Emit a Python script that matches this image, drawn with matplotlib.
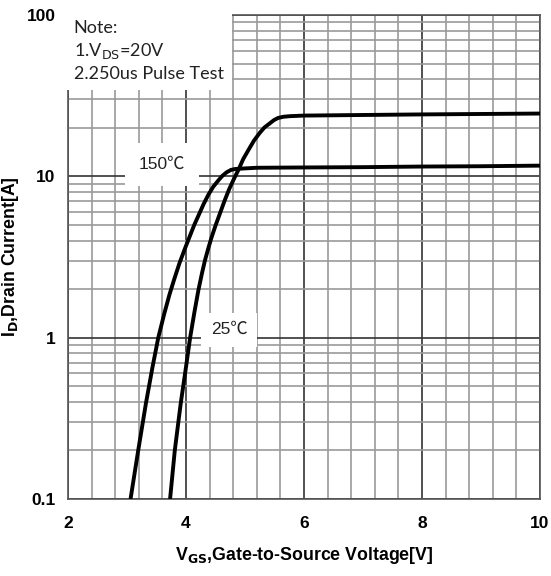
import matplotlib

matplotlib.use('Agg')

import numpy as np
import matplotlib.pyplot as plt
from matplotlib.ticker import FixedLocator, LogLocator, NullFormatter

# transfer characteristics
vgs_25 = [3.73, 3.81, 3.91, 3.99, 4.07, 4.14, 4.21, 4.27, 4.32, 4.38, 4.43, 4.50,
          4.58, 4.65, 4.73, 4.81, 4.89, 4.97, 5.06, 5.15, 5.25, 5.33, 5.42, 5.49,
          5.56, 5.65, 5.76, 6.00, 7.00, 8.00, 9.00, 10.0]
id_25 = [0.1, 0.2, 0.39, 0.62, 1.0, 1.42, 1.97, 2.5, 3.0, 3.6, 4.15, 4.95,
         5.95, 7.0, 8.3, 9.6, 11.0, 12.8, 14.6, 16.6, 18.6, 20.1, 21.3, 22.3,
         23.0, 23.4, 23.6, 23.8, 24.0, 24.2, 24.35, 24.5]

vgs_150 = [3.06, 3.19, 3.32, 3.43, 3.53, 3.63, 3.72, 3.80, 3.89, 3.98, 4.08, 4.14,
           4.21, 4.30, 4.38, 4.46, 4.55, 4.62, 4.69, 4.76, 4.83, 5.00, 5.20, 6.00,
           7.00, 8.00, 9.00, 10.0]
id_150 = [0.1, 0.2, 0.39, 0.65, 1.0, 1.40, 1.85, 2.3, 2.9, 3.55, 4.4, 5.0,
          5.7, 6.75, 7.7, 8.6, 9.45, 10.1, 10.6, 10.95, 11.1, 11.2, 11.3, 11.35,
          11.4, 11.5, 11.55, 11.65]

label_font = ['Liberation Sans', 'Noto Sans CJK SC']

fig = plt.figure(figsize=(5.51, 5.76), dpi=100)
ax = fig.add_axes([68 / 551, 77 / 576, 472 / 551, 484 / 576])

ax.set_xlim(2, 10)
ax.set_yscale('log')
ax.set_ylim(0.1, 100)

ax.xaxis.set_major_locator(FixedLocator([2, 4, 6, 8, 10]))
ax.xaxis.set_minor_locator(FixedLocator(np.arange(2, 10.01, 0.4)))
ax.yaxis.set_major_locator(FixedLocator([0.1, 1, 10, 100]))
ax.yaxis.set_minor_locator(LogLocator(base=10, subs=np.arange(2, 10)))
ax.yaxis.set_minor_formatter(NullFormatter())
ax.set_yticklabels(['0.1', '1', '10', '100'])

ax.grid(which='minor', color='#9a9a9a', linewidth=1.2)
ax.grid(which='major', color='#333333', linewidth=1.2)
ax.tick_params(which='both', length=0)
ax.tick_params(axis='y', labelsize=12.5, pad=9)
ax.tick_params(axis='x', labelsize=12.5, pad=12)
for lab in ax.get_xticklabels() + ax.get_yticklabels():
    lab.set_fontweight('bold')
    lab.set_family('Liberation Sans')
for s in ax.spines.values():
    s.set_color('#555555')
    s.set_linewidth(1.2)

ax.plot(vgs_25, id_25, color='black', linewidth=2.8, solid_capstyle='butt', zorder=5)
ax.plot(vgs_150, id_150, color='black', linewidth=2.8, solid_capstyle='butt', zorder=5)

ax.text(3.59, 11.8, '150\u2103', fontsize=12.5, family=label_font, color='#222222',
        ha='center', va='center', bbox=dict(facecolor='white', edgecolor='none', pad=10), zorder=4)
ax.text(4.73, 1.12, '25\u2103', fontsize=12.5, family=label_font, color='#222222',
        ha='center', va='center', bbox=dict(facecolor='white', edgecolor='none', pad=7), zorder=4)

ax.text(0.012, 0.99, 'Note:\n1.V$_{\\mathrm{DS}}$=20V\n2.250us Pulse Test',
        transform=ax.transAxes, fontsize=13, family='Lato', color='#222222',
        ha='left', va='top', linespacing=1.35,
        bbox=dict(facecolor='white', edgecolor='none', pad=6), zorder=4)

ax.set_xlabel('V$_{\\mathbf{GS}}$,Gate-to-Source Voltage[V]', fontsize=12.8,
              fontweight='bold', family='Liberation Sans', labelpad=10)
ax.set_ylabel('I$_{\\mathbf{D}}$,Drain Current[A]', fontsize=12.8,
              fontweight='bold', family='Liberation Sans')
ax.yaxis.set_label_coords(-0.1, 0.5)

fig.savefig('out.png', dpi=100)
